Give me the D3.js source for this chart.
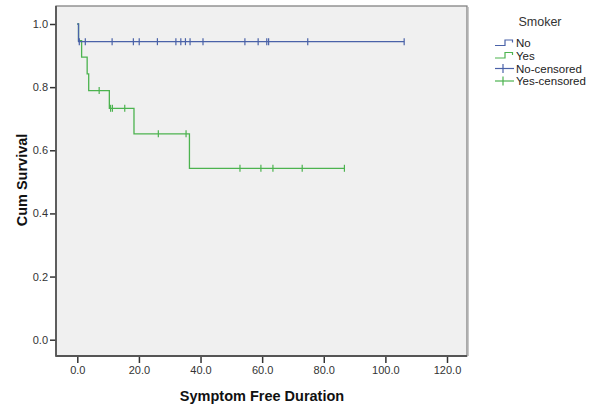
<!DOCTYPE html>
<html>
<head>
<meta charset="utf-8">
<script src="https://cdn.jsdelivr.net/npm/d3@7"></script>
<style>
  html, body { margin: 0; padding: 0; background: #ffffff; }
  svg { display: block; font-family: "Liberation Sans", Arial, sans-serif; }
</style>
</head>
<body>
<svg id="chart" width="595" height="409"></svg>
<script>
// ---- data ----
const xTicks = [0, 20, 40, 60, 80, 100, 120];
const yTicks = [0, 0.2, 0.4, 0.6, 0.8, 1.0];

const noStepTimes = [0, 0.4];
const noStepSurv  = [1.0, 0.944];
const noEnd = 106.1;
const noCensored = [0.65, 2.6, 11.3, 18.2, 20.1, 26.0, 32.0, 33.6, 35.1, 36.6, 40.8, 54.4, 58.7, 61.5, 62.1, 74.8, 106.1];

const yesStepTimes = [0, 0.4, 1.4, 3.2, 3.7, 10.4, 18.4, 36.4];
const yesStepSurv  = [1.0, 0.947, 0.895, 0.842, 0.789, 0.733, 0.652, 0.543];
const yesEnd = 86.7;
const yesCensored = [7.1, 10.8, 11.4, 15.4, 26.3, 35.3, 52.8, 59.6, 63.5, 73.0, 86.7];

const legendLabels = ["No", "Yes", "No-censored", "Yes-censored"];

// ---- styles ----
const blue = "#4a62a8";
const green = "#4cb34f";

const svg = d3.select("#chart");
const frame = {left: 56, right: 467, top: 6, bottom: 356};

const x = d3.scaleLinear().domain([0, 120]).range([77.3, 447]);
const y = d3.scaleLinear().domain([0, 1]).range([339.7, 24]);

// plot background
svg.append("rect")
  .attr("x", frame.left).attr("y", frame.top)
  .attr("width", frame.right - frame.left).attr("height", frame.bottom - frame.top)
  .attr("fill", "#f0f0f0").attr("stroke", "#7a7a7a").attr("stroke-width", 1.2);
svg.append("line").attr("x1", frame.right + 1.5).attr("x2", frame.right + 1.5)
  .attr("y1", frame.top + 1).attr("y2", frame.bottom)
  .attr("stroke", "#c8c8c8").attr("stroke-width", 1);

function stepPath(times, surv, end) {
  const pts = [];
  for (let i = 0; i < times.length; i++) {
    if (i > 0) pts.push([times[i], surv[i - 1]]);
    pts.push([times[i], surv[i]]);
  }
  pts.push([end, surv[surv.length - 1]]);
  return d3.line().x(d => x(d[0])).y(d => y(d[1]))(pts);
}
function survAt(times, surv, t) {
  let s = surv[0];
  for (let i = 0; i < times.length; i++) if (times[i] <= t) s = surv[i];
  return s;
}

function drawSeries(times, surv, end, cens, color) {
  svg.append("path").attr("d", stepPath(times, surv, end))
    .attr("fill", "none").attr("stroke", color).attr("stroke-width", 1.3);
  svg.append("g").selectAll("line").data(cens).join("line")
    .attr("x1", d => x(d)).attr("x2", d => x(d))
    .attr("y1", d => y(survAt(times, surv, d)) - 3.5)
    .attr("y2", d => y(survAt(times, surv, d)) + 3.5)
    .attr("stroke", color).attr("stroke-width", 1.2);
}
drawSeries(yesStepTimes, yesStepSurv, yesEnd, yesCensored, green);
drawSeries(noStepTimes, noStepSurv, noEnd, noCensored, blue);

// axes
const xAxis = svg.append("g").attr("transform", `translate(0,${frame.bottom})`)
  .call(d3.axisBottom(x).tickValues(xTicks).tickFormat(d3.format(".1f")).tickSize(7).tickPadding(3));
xAxis.select(".domain").remove();
const yAxis = svg.append("g").attr("transform", `translate(${frame.left},0)`)
  .call(d3.axisLeft(y).tickValues(yTicks).tickFormat(d3.format(".1f")).tickSize(6).tickPadding(2));
yAxis.select(".domain").remove();
[xAxis, yAxis].forEach(a => {
  a.selectAll("text").attr("font-size", 11).attr("fill", "#333").attr("font-family", "Liberation Sans, Arial, sans-serif");
  a.selectAll(".tick line").attr("stroke", "#333").attr("stroke-width", 1.5);
});
svg.append("line").attr("x1", frame.left).attr("x2", frame.left).attr("y1", frame.top).attr("y2", frame.bottom + 0.75)
  .attr("stroke", "#555").attr("stroke-width", 1.8);
svg.append("line").attr("x1", frame.left).attr("x2", frame.right).attr("y1", frame.bottom).attr("y2", frame.bottom)
  .attr("stroke", "#555").attr("stroke-width", 1.8);

// axis titles
svg.append("text").attr("x", 262).attr("y", 401).attr("text-anchor", "middle")
  .attr("font-size", 14.5).attr("font-weight", "bold").attr("fill", "#111")
  .text("Symptom Free Duration");
svg.append("text").attr("transform", "translate(27,180) rotate(-90)").attr("text-anchor", "middle")
  .attr("font-size", 14.5).attr("font-weight", "bold").attr("fill", "#111")
  .text("Cum Survival");

// legend
svg.append("text").attr("x", 540).attr("y", 26).attr("text-anchor", "middle")
  .attr("font-size", 12.5).attr("fill", "#333").text("Smoker");
const legY = [43, 55.5, 68.5, 81];
const legColors = [blue, green, blue, green];
legendLabels.forEach((lab, i) => {
  const yy = legY[i];
  const g = svg.append("g");
  if (i < 2) {
    g.append("path").attr("d", `M495,${yy + 2.5}H505V${yy - 3}H512.5V${yy - 0.5}`)
      .attr("fill", "none").attr("stroke", legColors[i]).attr("stroke-width", 1.2);
  } else {
    g.append("line").attr("x1", 495).attr("x2", 514).attr("y1", yy).attr("y2", yy)
      .attr("stroke", legColors[i]).attr("stroke-width", 1.2);
    g.append("line").attr("x1", 503).attr("x2", 503).attr("y1", yy - 4.5).attr("y2", yy + 4.5)
      .attr("stroke", legColors[i]).attr("stroke-width", 1.2);
  }
  g.append("text").attr("x", 516).attr("y", yy + 4).attr("font-size", 11.5).attr("fill", "#222").text(lab);
});
</script>
</body>
</html>
